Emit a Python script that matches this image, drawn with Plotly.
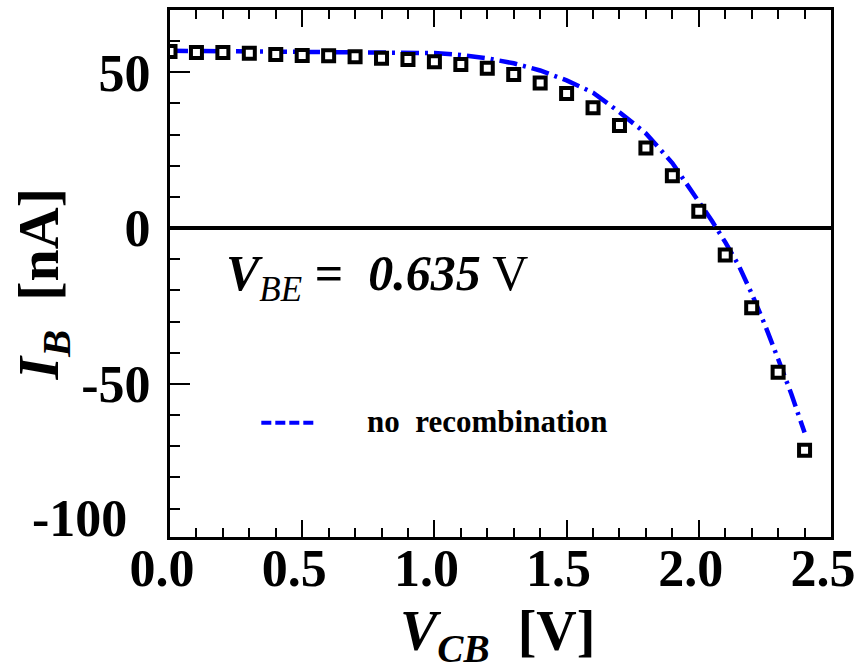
import plotly.graph_objects as go

# ---- data ----
vcb_meas = [0.0, 0.1, 0.2, 0.3, 0.4, 0.5, 0.6, 0.7, 0.8, 0.9, 1.0, 1.1, 1.2,
            1.3, 1.4, 1.5, 1.6, 1.7, 1.8, 1.9, 2.0, 2.1, 2.2, 2.3, 2.4]
ib_meas = [56.7, 56.4, 56.4, 56.1, 55.7, 55.4, 55.3, 55.0, 54.5, 54.1, 53.4, 52.5, 51.3,
           49.3, 46.6, 43.2, 38.6, 32.9, 25.7, 16.8, 5.4, -8.6, -25.5, -46.2, -71.3]

vcb_model = [0.0, 0.2, 0.4, 0.6, 0.8, 1.0, 1.1, 1.2, 1.3, 1.4, 1.5, 1.6, 1.7,
             1.8, 1.9, 2.0, 2.05, 2.1, 2.15, 2.2, 2.25, 2.3, 2.35, 2.4]
ib_model = [56.9, 56.8, 56.7, 56.6, 56.4, 56.2, 55.6, 54.5, 52.9, 50.6, 47.4, 43.5, 37.2,
            30.4, 20.9, 8.9, 2.3, -4.5, -11.8, -21.0, -31.0, -42.0, -53.2, -65.6]

x_ticks = [0.0, 0.5, 1.0, 1.5, 2.0, 2.5]
x_ticktext = ["0.0", "0.5", "1.0", "1.5", "2.0", "2.5"]
y_ticks = [-50, 0, 50]
y_ticktext = ["-50", "0", "50"]
y_bottom_label = "-100"

legend_name = "no&nbsp; recombination"

SERIF = "Liberation Serif"

fig = go.Figure()

fig.add_trace(go.Scatter(
    x=vcb_model, y=ib_model, mode="lines",
    line=dict(color="#0000FF", width=4.5, dash="18px,6px,3px,6px"),
    showlegend=False, name=legend_name,
))
fig.add_trace(go.Scatter(
    x=vcb_meas, y=ib_meas, mode="markers",
    marker=dict(symbol="square", size=11, color="white",
                line=dict(color="black", width=4)),
    showlegend=False,
))

axis_common = dict(
    showline=True, linecolor="black", linewidth=3,
    showgrid=False, ticks="inside", tickcolor="black", tickwidth=2,
    tickfont=dict(family=SERIF, size=52, color="black", weight="bold"),
)

fig.update_xaxes(
    range=[0, 2.5], tickvals=x_ticks, ticktext=x_ticktext,
    ticklen=17, mirror="ticks", zeroline=False,
    minor=dict(dtick=0.1, ticklen=9, tickwidth=2, tickcolor="black", ticks="inside"),
    ticklabelstandoff=-16, ticklabelshift=-8,
    **axis_common,
)
fig.update_yaxes(
    range=[-99.1, 70], tickvals=y_ticks, ticktext=y_ticktext,
    ticklen=20, mirror=True,
    zeroline=True, zerolinecolor="black", zerolinewidth=4,
    minor=dict(dtick=10, ticklen=10, tickwidth=2, tickcolor="black", ticks="inside"),
    ticklabelstandoff=6,
    **axis_common,
)

W, H = 863, 671
L, R, T, B = 170, 27, 7, 134
pw, ph = W - L - R, H - T - B

def px_x(p):
    return (p - L) / pw

def px_y(p):
    return (H - B - p) / ph

annotations = [
    # y tick label at the bottom (placed slightly up, as in the reference)
    dict(text="<b>" + y_bottom_label + "</b>", xref="paper", yref="paper",
         x=px_x(129), y=px_y(518),
         xanchor="right", yanchor="middle", showarrow=False,
         font=dict(family=SERIF, size=52, color="black")),
    # in-plot label
    dict(text="<b><i>V</i></b><i><sub>BE</sub></i><b> =&nbsp; <i>0.635</i></b> V",
         xref="paper", yref="paper", x=px_x(224), y=px_y(276),
         xanchor="left", yanchor="middle", showarrow=False,
         font=dict(family=SERIF, size=50, color="black")),
    # legend text
    dict(text="<b>" + legend_name + "</b>", xref="paper", yref="paper",
         x=px_x(366), y=px_y(421), xanchor="left", yanchor="middle", showarrow=False,
         font=dict(family=SERIF, size=31, color="black")),
    # axis titles
    dict(text="<b><i>V<sub>CB</sub></i>&nbsp; [V]</b>", xref="paper", yref="paper",
         x=px_x(500), y=px_y(636), xanchor="center", yanchor="middle", showarrow=False,
         font=dict(family=SERIF, size=56, color="black")),
    dict(text="<b><i>I<sub>B</sub></i>&nbsp; [nA]</b>", xref="paper", yref="paper",
         x=px_x(41), y=px_y(283), xanchor="center", yanchor="middle", showarrow=False,
         textangle=-90, font=dict(family=SERIF, size=58, color="black")),
]

shapes = [
    dict(type="line", xref="paper", yref="paper",
         x0=px_x(262), x1=px_x(315), y0=px_y(422), y1=px_y(422),
         line=dict(color="#0000FF", width=4, dash="10px,4px")),
]

fig.update_layout(
    width=W, height=H,
    margin=dict(l=L, r=R, t=T, b=B, pad=0),
    paper_bgcolor="white", plot_bgcolor="white",
    annotations=annotations, shapes=shapes,
    showlegend=False,
)

fig.write_html("out.html")
